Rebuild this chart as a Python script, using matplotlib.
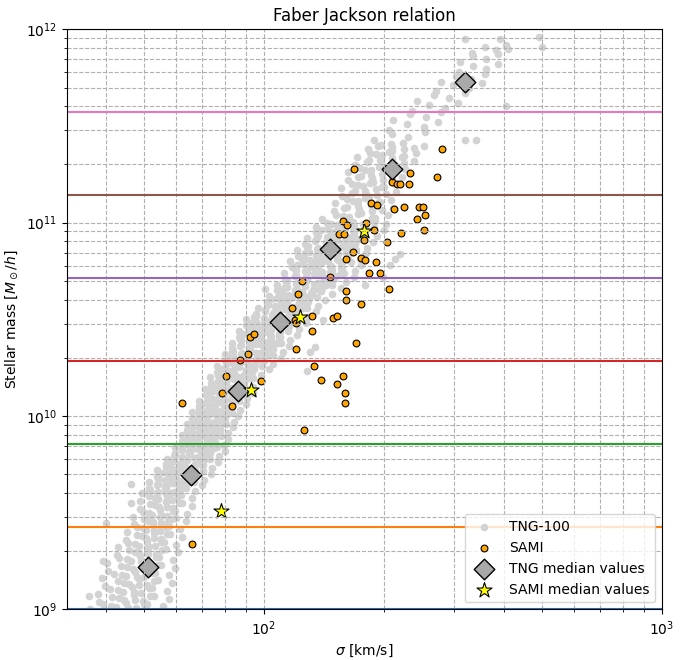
import numpy as np
import matplotlib
matplotlib.use("Agg")
import matplotlib.pyplot as plt

# ---- SAMI galaxies (sigma in km/s, stellar mass in Msun/h) ----
sami_sigma = [
    279.5, 168.5, 232.6, 271.6, 210.0, 215.4, 219.6, 230.9, 186.3, 192.4,
    211.7, 224.7, 244.7, 250.8, 254.5, 242.7, 158.1, 162.0, 180.8, 189.1,
    252.6, 220.8, 154.3, 158.9, 178.5, 204.0, 167.5, 161.0, 175.6, 179.8,
    191.2, 183.2, 195.2, 146.8, 206.3, 160.4, 160.8, 175.8, 124.3, 121.7,
    117.8, 132.2, 149.5, 152.8, 120.0, 120.1, 131.7, 92.2, 94.2, 120.4,
    91.0, 87.3, 133.8, 80.4, 98.4, 139.3, 152.6, 78.4, 62.3, 83.0,
    126.2, 65.8, 170.8, 158.1, 159.6, 159.9,
]
sami_mass = [
    2.394e11, 1.894e11, 1.813e11, 1.728e11, 1.616e11, 1.578e11, 1.578e11, 1.578e11, 1.258e11, 1.229e11,
    1.172e11, 1.200e11, 1.200e11, 1.200e11, 1.091e11, 1.044e11, 1.019e11, 9.72e10, 9.99e10, 9.13e10,
    9.13e10, 8.89e10, 8.70e10, 8.70e10, 8.10e10, 7.91e10, 7.06e10, 6.45e10, 6.60e10, 6.43e10,
    6.29e10, 5.47e10, 5.47e10, 5.23e10, 4.55e10, 4.44e10, 3.97e10, 3.79e10, 4.99e10, 4.26e10,
    3.62e10, 3.30e10, 3.22e10, 3.30e10, 3.15e10, 3.01e10, 2.74e10, 2.55e10, 2.67e10, 2.23e10,
    2.08e10, 1.94e10, 1.81e10, 1.61e10, 1.51e10, 1.54e10, 1.47e10, 1.31e10, 1.17e10, 1.12e10,
    8.48e9, 2.18e9, 2.39e10, 1.61e10, 1.31e10, 1.17e10,
]

# ---- median values ----
tng_med_sigma = [51.1, 65.7, 86.2, 109.5, 146.9, 210.4, 320.4]
tng_med_mass = [1.66e9, 4.94e9, 1.35e10, 3.07e10, 7.3e10, 1.89e11, 5.35e11]
sami_med_sigma = [77.8, 92.8, 122.9, 178.5]
sami_med_mass = [3.23e9, 1.37e10, 3.26e10, 9.08e10]

# ---- mass bin edges ----
mass_bin_edges = [1.0e9, 2.68e9, 7.20e9, 1.93e10, 5.18e10, 1.39e11, 3.73e11, 1.0e12]

tng_log_sigma = [
    1.564, 1.597, 1.629, 1.654, 1.678, 1.707, 1.746,
    1.585, 1.619, 1.649, 1.673, 1.697, 1.725, 1.761,
    1.583, 1.614, 1.645, 1.669, 1.692, 1.719, 1.756,
    1.601, 1.633, 1.662, 1.685, 1.707, 1.734, 1.768,
    1.594, 1.624, 1.654, 1.677, 1.699, 1.726, 1.762,
    1.609, 1.641, 1.670, 1.693, 1.715, 1.742, 1.776,
    1.607, 1.637, 1.666, 1.688, 1.710, 1.736, 1.771,
    1.631, 1.661, 1.687, 1.708, 1.729, 1.753, 1.785,
    1.633, 1.659, 1.686, 1.706, 1.726, 1.749, 1.780,
    1.654, 1.681, 1.704, 1.723, 1.742, 1.764, 1.793,
    1.656, 1.680, 1.704, 1.722, 1.740, 1.761, 1.790,
    1.673, 1.699, 1.721, 1.739, 1.757, 1.778, 1.805,
    1.672, 1.696, 1.720, 1.738, 1.756, 1.777, 1.806,
    1.689, 1.714, 1.737, 1.754, 1.772, 1.793, 1.820,
    1.688, 1.711, 1.735, 1.753, 1.770, 1.791, 1.819,
    # 9.60 - 10.98
    1.694, 1.715, 1.734, 1.751, 1.767, 1.784, 1.805, 1.828,
    1.712, 1.733, 1.752, 1.768, 1.786, 1.805, 1.825, 1.845,
    1.712, 1.733, 1.752, 1.770, 1.786, 1.804, 1.825, 1.849,
    1.731, 1.752, 1.771, 1.788, 1.806, 1.825, 1.846, 1.866,
    1.732, 1.753, 1.772, 1.790, 1.806, 1.824, 1.845, 1.869,
    1.753, 1.773, 1.792, 1.808, 1.826, 1.844, 1.865, 1.884,
    1.756, 1.776, 1.795, 1.812, 1.827, 1.844, 1.864, 1.887,
    1.776, 1.795, 1.813, 1.828, 1.845, 1.863, 1.883, 1.901,
    1.776, 1.795, 1.812, 1.828, 1.843, 1.859, 1.878, 1.899,
    1.793, 1.811, 1.828, 1.842, 1.858, 1.875, 1.893, 1.910,
    1.794, 1.811, 1.828, 1.843, 1.856, 1.871, 1.889, 1.909,
    1.807, 1.825, 1.842, 1.856, 1.871, 1.887, 1.905, 1.922,
    1.806, 1.824, 1.840, 1.856, 1.870, 1.885, 1.903, 1.924,
    1.820, 1.838, 1.854, 1.869, 1.884, 1.901, 1.919, 1.936,
    1.820, 1.838, 1.855, 1.871, 1.885, 1.901, 1.919, 1.940,
    1.837, 1.855, 1.872, 1.886, 1.902, 1.919, 1.937, 1.954,
    1.838, 1.856, 1.873, 1.889, 1.903, 1.919, 1.937, 1.958,
    1.855, 1.873, 1.890, 1.904, 1.920, 1.937, 1.955, 1.972,
    1.852, 1.870, 1.887, 1.903, 1.917, 1.933, 1.951, 1.972,
    1.866, 1.886, 1.903, 1.918, 1.935, 1.953, 1.972, 1.990,
    1.864, 1.884, 1.902, 1.919, 1.934, 1.951, 1.971, 1.993,
    1.882, 1.903, 1.922, 1.938, 1.955, 1.974, 1.995, 2.014,
    1.883, 1.904, 1.924, 1.942, 1.959, 1.977, 1.998, 2.022,
    1.901, 1.923, 1.944, 1.961, 1.980, 2.001, 2.023, 2.043,
    1.901, 1.923, 1.944, 1.963, 1.981, 2.000, 2.022, 2.048,
    1.919, 1.942, 1.963, 1.980, 1.999, 2.020, 2.043, 2.063,
    1.919, 1.941, 1.962, 1.981, 1.999, 2.018, 2.040, 2.066,
    1.937, 1.960, 1.981, 1.999, 2.018, 2.039, 2.061, 2.082,
    1.937, 1.960, 1.981, 2.001, 2.019, 2.039, 2.062, 2.088,
    1.956, 1.979, 2.001, 2.019, 2.040, 2.061, 2.085, 2.106,
    1.955, 1.979, 2.001, 2.021, 2.040, 2.061, 2.084, 2.112,
    1.980, 2.003, 2.025, 2.043, 2.064, 2.085, 2.109, 2.130,
    1.985, 2.008, 2.029, 2.049, 2.067, 2.087, 2.110, 2.136,
    2.009, 2.032, 2.053, 2.071, 2.090, 2.111, 2.133, 2.154,
    2.014, 2.038, 2.060, 2.080, 2.099, 2.119, 2.143, 2.170,
    2.034, 2.059, 2.082, 2.102, 2.123, 2.146, 2.171, 2.194,
    2.033, 2.059, 2.083, 2.106, 2.126, 2.149, 2.175, 2.205,
    2.053, 2.080, 2.105, 2.127, 2.150, 2.175, 2.202, 2.227,
    2.051, 2.078, 2.103, 2.126, 2.147, 2.170, 2.197, 2.228,
    2.071, 2.098, 2.123, 2.145, 2.168, 2.193, 2.220, 2.245,
    2.066, 2.092, 2.117, 2.140, 2.161, 2.184, 2.210, 2.241,
    2.086, 2.113, 2.137, 2.158, 2.181, 2.206, 2.232, 2.257,
    2.084, 2.110, 2.135, 2.158, 2.179, 2.202, 2.228, 2.259,
    2.104, 2.131, 2.155, 2.176, 2.199, 2.224, 2.250, 2.275,
    2.108, 2.134, 2.159, 2.182, 2.203, 2.226, 2.252, 2.283,
    2.131, 2.158, 2.182, 2.203, 2.226, 2.251, 2.277, 2.302,
    2.132, 2.158, 2.183, 2.206, 2.227, 2.250, 2.276, 2.307,
    # 11.02 - 11.38
    2.147, 2.182, 2.215, 2.245, 2.278, 2.311,
    2.175, 2.209, 2.240, 2.268, 2.297, 2.324,
    2.178, 2.208, 2.237, 2.263, 2.292, 2.320,
    2.197, 2.228, 2.256, 2.281, 2.307, 2.332,
    2.194, 2.222, 2.250, 2.274, 2.302, 2.329,
    2.212, 2.243, 2.271, 2.296, 2.322, 2.346,
    2.210, 2.241, 2.270, 2.296, 2.325, 2.354,
    2.230, 2.264, 2.295, 2.322, 2.351, 2.378,
    2.234, 2.266, 2.296, 2.322, 2.352, 2.382,
    2.261, 2.294, 2.323, 2.349, 2.376, 2.402,
    # 11.43 - 11.96
    2.276, 2.321, 2.362, 2.404,
    2.315, 2.360, 2.402, 2.437,
    2.325, 2.367, 2.406, 2.445,
    2.373, 2.415, 2.454, 2.487,
    2.385, 2.427, 2.466, 2.505,
    2.433, 2.475, 2.514, 2.547,
    2.444, 2.483, 2.520, 2.556,
    2.489, 2.525, 2.559, 2.587,
    2.492, 2.526, 2.557, 2.588,
    2.524, 2.555, 2.584, 2.608,
    2.505, 2.593, 2.612, 2.691,
    # scattered points off the main band
    2.506, 2.534, 2.607, 2.698, 1.665, 1.666, 1.763, 1.604, 1.595, 1.560,
    2.002, 2.330, 2.341, 2.316, 2.300, 2.253, 2.107, 2.148, 2.115, 2.128,
]
tng_log_mass = [
    9.000, 9.025, 9.010, 9.035, 9.005, 9.030, 9.015,
    9.040, 9.065, 9.050, 9.075, 9.045, 9.070, 9.055,
    9.080, 9.105, 9.090, 9.115, 9.085, 9.110, 9.095,
    9.120, 9.145, 9.130, 9.155, 9.125, 9.150, 9.135,
    9.160, 9.185, 9.170, 9.195, 9.165, 9.190, 9.175,
    9.200, 9.225, 9.210, 9.235, 9.205, 9.230, 9.215,
    9.240, 9.265, 9.250, 9.275, 9.245, 9.270, 9.255,
    9.280, 9.305, 9.290, 9.315, 9.285, 9.310, 9.295,
    9.320, 9.345, 9.330, 9.355, 9.325, 9.350, 9.335,
    9.360, 9.385, 9.370, 9.395, 9.365, 9.390, 9.375,
    9.400, 9.425, 9.410, 9.435, 9.405, 9.430, 9.415,
    9.440, 9.465, 9.450, 9.475, 9.445, 9.470, 9.455,
    9.480, 9.505, 9.490, 9.515, 9.485, 9.510, 9.495,
    9.520, 9.545, 9.530, 9.555, 9.525, 9.550, 9.535,
    9.560, 9.585, 9.570, 9.595, 9.565, 9.590, 9.575,
    # 9.60 - 10.98
    9.600, 9.618, 9.608, 9.624, 9.604, 9.614, 9.627, 9.611,
    9.630, 9.648, 9.638, 9.654, 9.634, 9.644, 9.657, 9.641,
    9.660, 9.678, 9.668, 9.684, 9.664, 9.674, 9.687, 9.671,
    9.690, 9.708, 9.698, 9.714, 9.694, 9.704, 9.717, 9.701,
    9.720, 9.738, 9.728, 9.744, 9.724, 9.734, 9.747, 9.731,
    9.750, 9.768, 9.758, 9.774, 9.754, 9.764, 9.777, 9.761,
    9.780, 9.798, 9.788, 9.804, 9.784, 9.794, 9.807, 9.791,
    9.810, 9.828, 9.818, 9.834, 9.814, 9.824, 9.837, 9.821,
    9.840, 9.858, 9.848, 9.864, 9.844, 9.854, 9.867, 9.851,
    9.870, 9.888, 9.878, 9.894, 9.874, 9.884, 9.897, 9.881,
    9.900, 9.918, 9.908, 9.924, 9.904, 9.914, 9.927, 9.911,
    9.930, 9.948, 9.938, 9.954, 9.934, 9.944, 9.957, 9.941,
    9.960, 9.978, 9.968, 9.984, 9.964, 9.974, 9.987, 9.971,
    9.990, 10.008, 9.998, 10.014, 9.994, 10.004, 10.017, 10.001,
    10.020, 10.038, 10.028, 10.044, 10.024, 10.034, 10.047, 10.031,
    10.050, 10.068, 10.058, 10.074, 10.054, 10.064, 10.077, 10.061,
    10.080, 10.098, 10.088, 10.104, 10.084, 10.094, 10.107, 10.091,
    10.110, 10.128, 10.118, 10.134, 10.114, 10.124, 10.137, 10.121,
    10.140, 10.158, 10.148, 10.164, 10.144, 10.154, 10.167, 10.151,
    10.170, 10.188, 10.178, 10.194, 10.174, 10.184, 10.197, 10.181,
    10.200, 10.218, 10.208, 10.224, 10.204, 10.214, 10.227, 10.211,
    10.230, 10.248, 10.238, 10.254, 10.234, 10.244, 10.257, 10.241,
    10.260, 10.278, 10.268, 10.284, 10.264, 10.274, 10.287, 10.271,
    10.290, 10.308, 10.298, 10.314, 10.294, 10.304, 10.317, 10.301,
    10.320, 10.338, 10.328, 10.344, 10.324, 10.334, 10.347, 10.331,
    10.350, 10.368, 10.358, 10.374, 10.354, 10.364, 10.377, 10.361,
    10.380, 10.398, 10.388, 10.404, 10.384, 10.394, 10.407, 10.391,
    10.410, 10.428, 10.418, 10.434, 10.414, 10.424, 10.437, 10.421,
    10.440, 10.458, 10.448, 10.464, 10.444, 10.454, 10.467, 10.451,
    10.470, 10.488, 10.478, 10.494, 10.474, 10.484, 10.497, 10.481,
    10.500, 10.518, 10.508, 10.524, 10.504, 10.514, 10.527, 10.511,
    10.530, 10.548, 10.538, 10.554, 10.534, 10.544, 10.557, 10.541,
    10.560, 10.578, 10.568, 10.584, 10.564, 10.574, 10.587, 10.571,
    10.590, 10.608, 10.598, 10.614, 10.594, 10.604, 10.617, 10.601,
    10.620, 10.638, 10.628, 10.644, 10.624, 10.634, 10.647, 10.631,
    10.650, 10.668, 10.658, 10.674, 10.654, 10.664, 10.677, 10.661,
    10.680, 10.698, 10.688, 10.704, 10.684, 10.694, 10.707, 10.691,
    10.710, 10.728, 10.718, 10.734, 10.714, 10.724, 10.737, 10.721,
    10.740, 10.758, 10.748, 10.764, 10.744, 10.754, 10.767, 10.751,
    10.770, 10.788, 10.778, 10.794, 10.774, 10.784, 10.797, 10.781,
    10.800, 10.818, 10.808, 10.824, 10.804, 10.814, 10.827, 10.811,
    10.830, 10.848, 10.838, 10.854, 10.834, 10.844, 10.857, 10.841,
    10.860, 10.878, 10.868, 10.884, 10.864, 10.874, 10.887, 10.871,
    10.890, 10.908, 10.898, 10.914, 10.894, 10.904, 10.917, 10.901,
    10.920, 10.938, 10.928, 10.944, 10.924, 10.934, 10.947, 10.931,
    10.950, 10.968, 10.958, 10.974, 10.954, 10.964, 10.977, 10.961,
    10.980, 10.998, 10.988, 11.004, 10.984, 10.994, 11.007, 10.991,
    # 11.02 - 11.38
    11.020, 11.042, 11.030, 11.052, 11.026, 11.038,
    11.060, 11.082, 11.070, 11.092, 11.066, 11.078,
    11.100, 11.122, 11.110, 11.132, 11.106, 11.118,
    11.140, 11.162, 11.150, 11.172, 11.146, 11.158,
    11.180, 11.202, 11.190, 11.212, 11.186, 11.198,
    11.220, 11.242, 11.230, 11.252, 11.226, 11.238,
    11.260, 11.282, 11.270, 11.292, 11.266, 11.278,
    11.300, 11.322, 11.310, 11.332, 11.306, 11.318,
    11.340, 11.362, 11.350, 11.372, 11.346, 11.358,
    11.380, 11.402, 11.390, 11.412, 11.386, 11.398,
    # 11.43 - 11.96
    11.430, 11.460, 11.445, 11.470,
    11.480, 11.510, 11.495, 11.520,
    11.530, 11.560, 11.545, 11.570,
    11.580, 11.610, 11.595, 11.620,
    11.630, 11.660, 11.645, 11.670,
    11.680, 11.710, 11.695, 11.720,
    11.730, 11.760, 11.745, 11.770,
    11.780, 11.810, 11.795, 11.820,
    11.830, 11.860, 11.845, 11.870,
    11.880, 11.910, 11.895, 11.920,
    11.948, 11.948, 11.900, 11.959,
    # scattered points off the main band
    11.427, 11.427, 11.603, 11.910, 9.650, 9.550, 9.750, 9.445, 9.250, 9.070,
    10.655, 10.810, 10.840, 10.780, 10.720, 10.677, 10.234, 10.495, 10.330, 10.356,
]

# ---- dense core of the TNG-100 cloud ----
tng_core_log_sigma = [
    1.617, 1.658, 1.699,
    1.635, 1.675, 1.715,
    1.634, 1.673, 1.712,
    1.648, 1.687, 1.724,
    1.643, 1.681, 1.718,
    1.657, 1.695, 1.733,
    1.655, 1.692, 1.729,
    1.675, 1.710, 1.744,
    1.676, 1.709, 1.742,
    1.693, 1.725, 1.756,
    1.695, 1.725, 1.755,
    1.710, 1.741, 1.770,
    1.711, 1.741, 1.771,
    1.726, 1.756, 1.786,
    1.726, 1.756, 1.785,
    # 9.60 - 10.98
    1.712, 1.732, 1.754, 1.774, 1.796,
    1.731, 1.753, 1.774, 1.796, 1.817,
    1.735, 1.757, 1.778, 1.800, 1.822,
    1.740, 1.761, 1.783, 1.804, 1.827,
    1.761, 1.783, 1.803, 1.826, 1.846,
    1.766, 1.788, 1.808, 1.830, 1.852,
    1.773, 1.793, 1.814, 1.834, 1.856,
    1.794, 1.814, 1.834, 1.855, 1.874,
    1.796, 1.816, 1.835, 1.855, 1.875,
    1.801, 1.819, 1.838, 1.856, 1.876,
    1.818, 1.836, 1.854, 1.873, 1.890,
    1.819, 1.838, 1.856, 1.875, 1.894,
    1.821, 1.839, 1.858, 1.876, 1.895,
    1.836, 1.856, 1.874, 1.893, 1.911,
    1.839, 1.859, 1.877, 1.897, 1.916,
    1.845, 1.863, 1.882, 1.900, 1.920,
    1.863, 1.882, 1.900, 1.920, 1.938,
    1.866, 1.886, 1.904, 1.924, 1.943,
    1.868, 1.886, 1.906, 1.924, 1.944,
    1.884, 1.905, 1.924, 1.944, 1.964,
    1.885, 1.906, 1.926, 1.947, 1.968,
    1.891, 1.911, 1.933, 1.954, 1.976,
    1.911, 1.934, 1.956, 1.978, 2.000,
    1.915, 1.939, 1.961, 1.985, 2.009,
    1.920, 1.942, 1.966, 1.989, 2.013,
    1.940, 1.964, 1.987, 2.011, 2.033,
    1.943, 1.967, 1.989, 2.013, 2.037,
    1.947, 1.970, 1.994, 2.016, 2.041,
    1.968, 1.993, 2.016, 2.040, 2.063,
    1.971, 1.996, 2.019, 2.045, 2.070,
    1.976, 1.999, 2.025, 2.049, 2.074,
    2.002, 2.027, 2.050, 2.075, 2.099,
    2.010, 2.034, 2.057, 2.082, 2.106,
    2.019, 2.042, 2.066, 2.088, 2.113,
    2.046, 2.072, 2.095, 2.121, 2.144,
    2.050, 2.077, 2.102, 2.128, 2.155,
    2.055, 2.081, 2.109, 2.135, 2.164,
    2.078, 2.107, 2.134, 2.163, 2.190,
    2.080, 2.109, 2.136, 2.165, 2.194,
    2.083, 2.110, 2.139, 2.166, 2.195,
    2.102, 2.130, 2.157, 2.185, 2.212,
    2.103, 2.132, 2.158, 2.187, 2.215,
    2.107, 2.133, 2.162, 2.188, 2.217,
    2.129, 2.157, 2.184, 2.212, 2.239,
    2.136, 2.165, 2.191, 2.220, 2.248,
    2.143, 2.169, 2.198, 2.224, 2.253,
    2.168, 2.196, 2.223, 2.251, 2.278,
    # 11.02 - 11.38
    2.199, 2.236, 2.272,
    2.202, 2.237, 2.271,
    2.223, 2.255, 2.287,
    2.222, 2.253, 2.284,
    2.236, 2.267, 2.297,
    2.237, 2.268, 2.299,
    2.255, 2.288, 2.320,
    2.258, 2.292, 2.326,
    2.281, 2.314, 2.347,
    2.287, 2.320, 2.352,
]
tng_core_log_mass = [
    9.018, 9.008, 9.028,
    9.058, 9.048, 9.068,
    9.098, 9.088, 9.108,
    9.138, 9.128, 9.148,
    9.178, 9.168, 9.188,
    9.218, 9.208, 9.228,
    9.258, 9.248, 9.268,
    9.298, 9.288, 9.308,
    9.338, 9.328, 9.348,
    9.378, 9.368, 9.388,
    9.418, 9.408, 9.428,
    9.458, 9.448, 9.468,
    9.498, 9.488, 9.508,
    9.538, 9.528, 9.548,
    9.578, 9.568, 9.588,
    # 9.60 - 10.98
    9.613, 9.603, 9.621, 9.607, 9.626,
    9.643, 9.633, 9.651, 9.637, 9.656,
    9.673, 9.663, 9.681, 9.667, 9.686,
    9.703, 9.693, 9.711, 9.697, 9.716,
    9.733, 9.723, 9.741, 9.727, 9.746,
    9.763, 9.753, 9.771, 9.757, 9.776,
    9.793, 9.783, 9.801, 9.787, 9.806,
    9.823, 9.813, 9.831, 9.817, 9.836,
    9.853, 9.843, 9.861, 9.847, 9.866,
    9.883, 9.873, 9.891, 9.877, 9.896,
    9.913, 9.903, 9.921, 9.907, 9.926,
    9.943, 9.933, 9.951, 9.937, 9.956,
    9.973, 9.963, 9.981, 9.967, 9.986,
    10.003, 9.993, 10.011, 9.997, 10.016,
    10.033, 10.023, 10.041, 10.027, 10.046,
    10.063, 10.053, 10.071, 10.057, 10.076,
    10.093, 10.083, 10.101, 10.087, 10.106,
    10.123, 10.113, 10.131, 10.117, 10.136,
    10.153, 10.143, 10.161, 10.147, 10.166,
    10.183, 10.173, 10.191, 10.177, 10.196,
    10.213, 10.203, 10.221, 10.207, 10.226,
    10.243, 10.233, 10.251, 10.237, 10.256,
    10.273, 10.263, 10.281, 10.267, 10.286,
    10.303, 10.293, 10.311, 10.297, 10.316,
    10.333, 10.323, 10.341, 10.327, 10.346,
    10.363, 10.353, 10.371, 10.357, 10.376,
    10.393, 10.383, 10.401, 10.387, 10.406,
    10.423, 10.413, 10.431, 10.417, 10.436,
    10.453, 10.443, 10.461, 10.447, 10.466,
    10.483, 10.473, 10.491, 10.477, 10.496,
    10.513, 10.503, 10.521, 10.507, 10.526,
    10.543, 10.533, 10.551, 10.537, 10.556,
    10.573, 10.563, 10.581, 10.567, 10.586,
    10.603, 10.593, 10.611, 10.597, 10.616,
    10.633, 10.623, 10.641, 10.627, 10.646,
    10.663, 10.653, 10.671, 10.657, 10.676,
    10.693, 10.683, 10.701, 10.687, 10.706,
    10.723, 10.713, 10.731, 10.717, 10.736,
    10.753, 10.743, 10.761, 10.747, 10.766,
    10.783, 10.773, 10.791, 10.777, 10.796,
    10.813, 10.803, 10.821, 10.807, 10.826,
    10.843, 10.833, 10.851, 10.837, 10.856,
    10.873, 10.863, 10.881, 10.867, 10.886,
    10.903, 10.893, 10.911, 10.897, 10.916,
    10.933, 10.923, 10.941, 10.927, 10.946,
    10.963, 10.953, 10.971, 10.957, 10.976,
    10.993, 10.983, 11.001, 10.987, 11.006,
    # 11.02 - 11.38
    11.034, 11.046, 11.022,
    11.074, 11.086, 11.062,
    11.114, 11.126, 11.102,
    11.154, 11.166, 11.142,
    11.194, 11.206, 11.182,
    11.234, 11.246, 11.222,
    11.274, 11.286, 11.262,
    11.314, 11.326, 11.302,
    11.354, 11.366, 11.342,
    11.394, 11.406, 11.382,
]


def main():
    fig = plt.figure(figsize=(6.83, 6.60), dpi=100)
    ax = fig.add_axes([0.098, 0.0768, 0.8712, 0.8788])

    tng_sigma = 10 ** np.concatenate([tng_log_sigma, tng_core_log_sigma])
    tng_mass = 10 ** np.concatenate([tng_log_mass, tng_core_log_mass])

    ax.scatter(tng_sigma, tng_mass, s=20, color="lightgray", label="TNG-100")
    ax.scatter(sami_sigma, sami_mass, s=24, color="orange", edgecolor="black",
               linewidth=0.8, label="SAMI")
    ax.scatter(tng_med_sigma, tng_med_mass, s=110, marker="D", color="darkgray",
               edgecolor="black", linewidth=1.0, label="TNG median values")
    ax.scatter(sami_med_sigma, sami_med_mass, s=130, marker="*", color="yellow",
               edgecolor="black", linewidth=0.8, label="SAMI median values")

    # bin edges in stellar mass
    for i, edge in enumerate(mass_bin_edges):
        ax.axhline(edge, color=f"C{i}", lw=1.5)

    ax.set_xscale("log")
    ax.set_yscale("log")
    ax.set_xlim(32, 1000)
    ax.set_ylim(1e9, 1e12)
    ax.grid(True, which="both", ls="--")

    ax.set_title("Faber Jackson relation")
    ax.set_xlabel(r"$\sigma$ [km/s]")
    ax.set_ylabel(r"Stellar mass [$M_\odot/h$]")
    ax.legend(loc="lower right")

    fig.savefig("out.png", dpi=100)


if __name__ == "__main__":
    main()
